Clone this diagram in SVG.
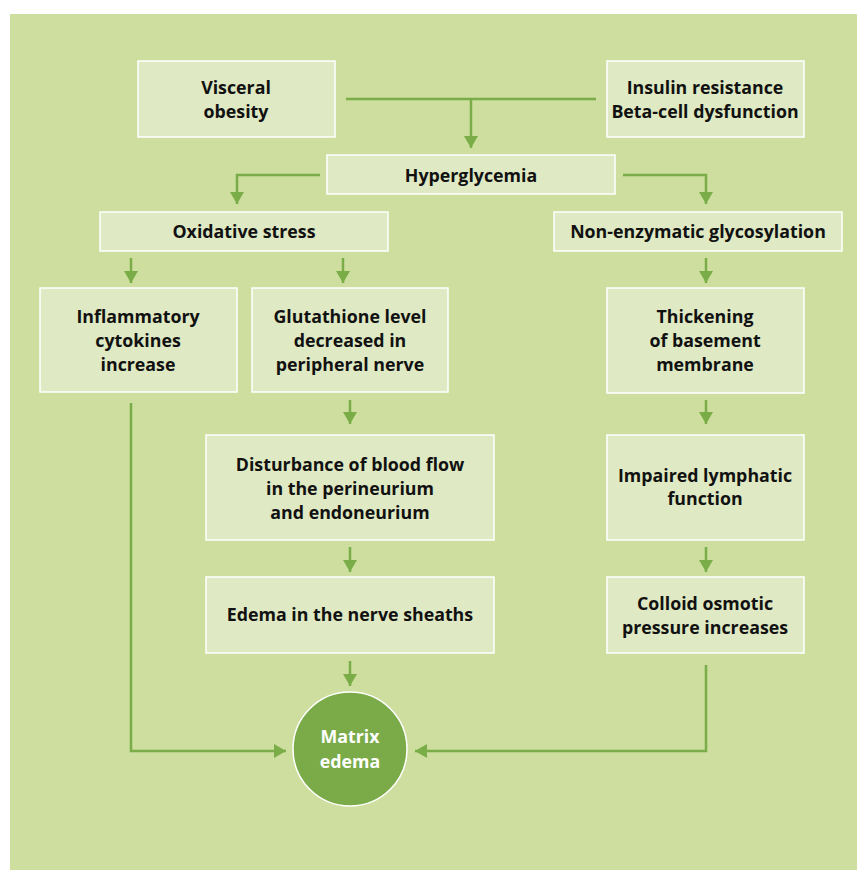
<svg xmlns="http://www.w3.org/2000/svg" width="857" height="870" viewBox="0 0 857 870">
<style>
.box{fill:#dfe9c3;stroke:#ffffff;stroke-width:1.5}
.t{font-family:"Open Sans","Noto Sans","Liberation Sans",sans-serif;font-weight:bold;font-size:17.8px;fill:#111;text-anchor:middle}
.w{fill:#ffffff}
.c{fill:none;stroke:#7aad48;stroke-width:2.5}
</style>
<defs>
<marker id="ah" viewBox="0 0 12 14" refX="12" refY="7" markerWidth="12" markerHeight="14" markerUnits="userSpaceOnUse" orient="auto">
<path d="M0,0 L12,7 L0,14 Z" fill="#7aad48"/>
</marker>
</defs>
<rect x="0" y="0" width="857" height="870" fill="#ffffff"/>
<rect x="10" y="14" width="847" height="856" fill="#cdde9e"/>

<g id="connectors">
<path class="c" d="M346,99 H596"/>
<path class="c" d="M471,99 V148" marker-end="url(#ah)"/>
<path class="c" d="M320,175 H237 V204" marker-end="url(#ah)"/>
<path class="c" d="M623,175 H706 V204" marker-end="url(#ah)"/>
<path class="c" d="M131,258 V283" marker-end="url(#ah)"/>
<path class="c" d="M343,258 V283" marker-end="url(#ah)"/>
<path class="c" d="M706,258 V283" marker-end="url(#ah)"/>
<path class="c" d="M350,400 V424" marker-end="url(#ah)"/>
<path class="c" d="M706,400 V424" marker-end="url(#ah)"/>
<path class="c" d="M350,547 V572" marker-end="url(#ah)"/>
<path class="c" d="M706,547 V572" marker-end="url(#ah)"/>
<path class="c" d="M350,661 V686" marker-end="url(#ah)"/>
<path class="c" d="M131,403 V751 H286" marker-end="url(#ah)"/>
<path class="c" d="M706,665 V751 H415" marker-end="url(#ah)"/>
</g>

<g id="visceral">
<rect class="box" x="138" y="61" width="197" height="76"/>
<text class="t" x="236" y="94">Visceral</text>
<text class="t" x="236" y="118">obesity</text>
</g>
<g id="insulin">
<rect class="box" x="607" y="61" width="197" height="76"/>
<text class="t" x="705" y="94">Insulin resistance</text>
<text class="t" x="705" y="118">Beta-cell dysfunction</text>
</g>
<g id="hyperglycemia">
<rect class="box" x="327" y="155" width="288" height="39"/>
<text class="t" x="471" y="182">Hyperglycemia</text>
</g>
<g id="oxidative">
<rect class="box" x="100" y="212" width="288" height="39"/>
<text class="t" x="244" y="238">Oxidative stress</text>
</g>
<g id="nonenzymatic">
<rect class="box" x="554" y="212" width="288" height="39"/>
<text class="t" x="698" y="238">Non-enzymatic glycosylation</text>
</g>
<g id="inflammatory">
<rect class="box" x="40" y="288" width="197" height="104"/>
<text class="t" x="138" y="323">Inflammatory</text>
<text class="t" x="138" y="347">cytokines</text>
<text class="t" x="138" y="371">increase</text>
</g>
<g id="glutathione">
<rect class="box" x="252" y="288" width="196" height="104"/>
<text class="t" x="350" y="323">Glutathione level</text>
<text class="t" x="350" y="347">decreased in</text>
<text class="t" x="350" y="371">peripheral nerve</text>
</g>
<g id="thickening">
<rect class="box" x="607" y="288" width="197" height="105"/>
<text class="t" x="705" y="323">Thickening</text>
<text class="t" x="705" y="347">of basement</text>
<text class="t" x="705" y="371">membrane</text>
</g>
<g id="disturbance">
<rect class="box" x="206" y="435" width="288" height="105"/>
<text class="t" x="350" y="471">Disturbance of blood flow</text>
<text class="t" x="350" y="495">in the perineurium</text>
<text class="t" x="350" y="519">and endoneurium</text>
</g>
<g id="impaired">
<rect class="box" x="607" y="435" width="197" height="105"/>
<text class="t" x="705" y="482">Impaired lymphatic</text>
<text class="t" x="705" y="505">function</text>
</g>
<g id="edema">
<rect class="box" x="206" y="577" width="288" height="76"/>
<text class="t" x="350" y="621">Edema in the nerve sheaths</text>
</g>
<g id="colloid">
<rect class="box" x="607" y="577" width="197" height="76"/>
<text class="t" x="705" y="610">Colloid osmotic</text>
<text class="t" x="705" y="634">pressure increases</text>
</g>
<g id="matrix">
<circle cx="350" cy="749" r="57" fill="#7aab48" stroke="#ffffff" stroke-width="1.5"/>
<text class="t w" x="350" y="743">Matrix</text>
<text class="t w" x="350" y="768">edema</text>
</g>
</svg>
